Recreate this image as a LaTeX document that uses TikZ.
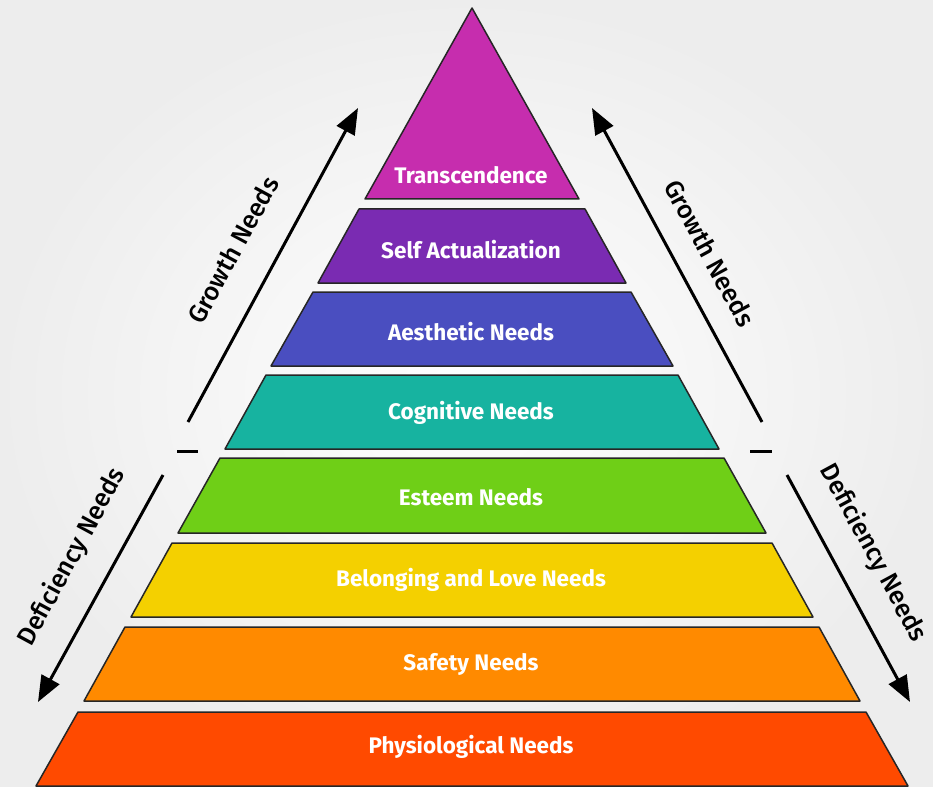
\documentclass[tikz,border=0pt]{standalone}
\usepackage{fontspec}
\setmainfont{Fira Sans}
\newfontfamily\medfont{Fira Sans Medium}
\usetikzlibrary{arrows.meta}

\definecolor{cTrans}{HTML}{C62DAE}
\definecolor{cSelf}{HTML}{7A2BB2}
\definecolor{cAest}{HTML}{4A4EC0}
\definecolor{cCogn}{HTML}{17B3A0}
\definecolor{cEste}{HTML}{6FCF17}
\definecolor{cBelo}{HTML}{F4D000}
\definecolor{cSafe}{HTML}{FF8A00}
\definecolor{cPhys}{HTML}{FF4A00}

\tikzset{
  layer/.style={draw=black!85, line width=1.5pt, line join=round},
  lbl/.style={text=white, font=\fontsize{22.5}{26}\selectfont\bfseries},
  side/.style={font=\fontsize{25.5}{30}\selectfont\medfont},
  needarrow/.style={line width=3pt, -{Triangle[length=26pt,width=20pt]}},
}

\begin{document}
\begin{tikzpicture}[x=1pt,y=-1pt]
\useasboundingbox (0,0) rectangle (933,786);
\shade[inner color=white, outer color=black!7] (0,0) rectangle (933,786);

% pyramid, top to bottom
\filldraw[layer, fill=cTrans] (472,8) -- (579,199) -- (365,199) -- cycle;
\filldraw[layer, fill=cSelf] (359,209) -- (585,209) -- (626,283) -- (318,283) -- cycle;
\filldraw[layer, fill=cAest] (313,292) -- (631,292) -- (673,366) -- (271,366) -- cycle;
\filldraw[layer, fill=cCogn] (266,375) -- (678,375) -- (719,449) -- (225,449) -- cycle;
\filldraw[layer, fill=cEste] (220,458) -- (724,458) -- (766,533) -- (178,533) -- cycle;
\filldraw[layer, fill=cBelo] (172,543) -- (772,543) -- (813,617) -- (131,617) -- cycle;
\filldraw[layer, fill=cSafe] (125,627) -- (819,627) -- (860,701) -- (84,701) -- cycle;
\filldraw[layer, fill=cPhys] (78,712) -- (866,712) -- (908,786) -- (36,786) -- cycle;

\node[lbl] (v1) at (471,175) {Transcendence};
\node[lbl] (v2) at (471,250) {Self Actualization};
\node[lbl] (v3) at (471,332) {Aesthetic Needs};
\node[lbl] (v4) at (471,413) {Cognitive Needs};
\node[lbl] (v5) at (471,497) {Esteem Needs};
\node[lbl] (v6) at (471,580) {Belonging and Love Needs};
\node[lbl] (v7) at (471,664) {Safety Needs};
\node[lbl] (v8) at (471,747) {Physiological Needs};

% arrows
\node[coordinate] (v9) at (188,422) {};
\node[coordinate] (v10) at (358,108) {};
\node[coordinate] (v11) at (762,422) {};
\node[coordinate] (v12) at (592,108) {};
\node[coordinate] (v13) at (163,475) {};
\node[coordinate] (v14) at (38,702) {};
\node[coordinate] (v15) at (787,475) {};
\node[coordinate] (v16) at (910,702) {};

\draw[needarrow] (v9)--(v10);
\draw[needarrow] (v11)--(v12);
\draw[needarrow] (v13)--(v14);
\draw[needarrow] (v15)--(v16);

\node[coordinate] (v17) at (177,451) {};
\node[coordinate] (v18) at (198,451) {};
\node[coordinate] (v19) at (750,451) {};
\node[coordinate] (v20) at (772,451) {};
\draw[line width=3pt] (v17)--(v18); \draw[line width=3pt] (v19)--(v20);

\node[side, rotate=61.6] (v21) at (233,250) {Growth Needs};
\node[side, rotate=-61.6] (v22) at (710,253) {Growth Needs};
\node[side, rotate=61.6] (v23) at (72,557) {Deficiency Needs};
\node[side, rotate=-61.6] (v24) at (873,553) {Deficiency Needs};

\end{tikzpicture}
\end{document}
